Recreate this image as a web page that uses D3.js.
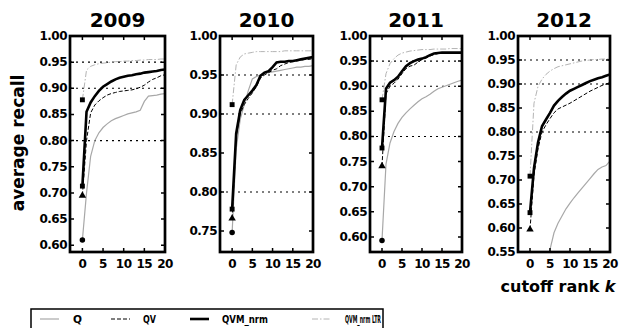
<!DOCTYPE html>
<html>
<head>
<meta charset="utf-8">
<script src="https://cdn.jsdelivr.net/npm/d3@7"></script>
<style>
  body { margin: 0; background: #fff; }
  text { font-family: "DejaVu Sans", sans-serif; font-weight: bold; }
</style>
</head>
<body>
<div id="chart"></div>
<script>
var years = ["2009", "2010", "2011", "2012"];
var ranks = [0, 1, 2, 3, 4, 5, 6, 7, 8, 9, 10, 11, 12, 13, 14, 15, 16, 17, 18, 19, 20];
var xTicks = [0, 5, 10, 15, 20];
var refLines = [0.80, 0.90, 0.95];
var yMin = [0.587, 0.723, 0.57, 0.55];
var yTicks = [
  [0.60, 0.65, 0.70, 0.75, 0.80, 0.85, 0.90, 0.95, 1.00],
  [0.75, 0.80, 0.85, 0.90, 0.95, 1.00],
  [0.60, 0.65, 0.70, 0.75, 0.80, 0.85, 0.90, 0.95, 1.00],
  [0.55, 0.60, 0.65, 0.70, 0.75, 0.80, 0.85, 0.90, 0.95, 1.00]
];

// one row per year, one value per cutoff rank
var recallQ = [
  [0.61, 0.70, 0.77, 0.80, 0.815, 0.825, 0.832, 0.838, 0.842, 0.845, 0.848, 0.851, 0.853, 0.855, 0.858, 0.875, 0.885, 0.886, 0.887, 0.889, 0.89],
  [0.748, 0.855, 0.893, 0.912, 0.93, 0.945, 0.948, 0.95, 0.952, 0.953, 0.954, 0.955, 0.956, 0.957, 0.958, 0.959, 0.96, 0.96, 0.961, 0.961, 0.962],
  [0.593, 0.745, 0.787, 0.81, 0.826, 0.838, 0.847, 0.855, 0.862, 0.869, 0.875, 0.879, 0.884, 0.89, 0.895, 0.898, 0.901, 0.904, 0.907, 0.91, 0.912],
  [0.40, 0.44, 0.47, 0.50, 0.53, 0.555, 0.59, 0.61, 0.625, 0.64, 0.652, 0.663, 0.673, 0.683, 0.693, 0.703, 0.713, 0.722, 0.727, 0.73, 0.74]
];
var recallQV = [
  [0.695, 0.80, 0.853, 0.868, 0.876, 0.882, 0.887, 0.89, 0.892, 0.894, 0.895, 0.896, 0.897, 0.899, 0.902, 0.906, 0.912, 0.917, 0.92, 0.924, 0.926],
  [0.766, 0.87, 0.90, 0.912, 0.92, 0.927, 0.935, 0.946, 0.95, 0.953, 0.956, 0.958, 0.962, 0.964, 0.966, 0.967, 0.968, 0.969, 0.97, 0.97, 0.971],
  [0.741, 0.885, 0.90, 0.906, 0.914, 0.925, 0.935, 0.94, 0.942, 0.948, 0.953, 0.956, 0.96, 0.963, 0.965, 0.966, 0.966, 0.966, 0.966, 0.966, 0.966],
  [0.597, 0.71, 0.765, 0.80, 0.815, 0.828, 0.84, 0.848, 0.852, 0.856, 0.86, 0.865, 0.87, 0.875, 0.88, 0.885, 0.889, 0.893, 0.897, 0.90, 0.903]
];
var recallQVM = [
  [0.713, 0.855, 0.873, 0.885, 0.895, 0.903, 0.908, 0.913, 0.917, 0.92, 0.922, 0.924, 0.925, 0.927, 0.928, 0.93, 0.931, 0.932, 0.933, 0.935, 0.936],
  [0.778, 0.875, 0.905, 0.918, 0.924, 0.93, 0.937, 0.949, 0.953, 0.955, 0.96, 0.966, 0.967, 0.967, 0.968, 0.968, 0.969, 0.97, 0.971, 0.972, 0.973],
  [0.777, 0.895, 0.907, 0.912, 0.919, 0.93, 0.94, 0.946, 0.95, 0.953, 0.955, 0.958, 0.962, 0.965, 0.966, 0.967, 0.967, 0.967, 0.967, 0.967, 0.967],
  [0.632, 0.725, 0.778, 0.812, 0.826, 0.84, 0.855, 0.865, 0.873, 0.88, 0.886, 0.89, 0.894, 0.898, 0.902, 0.906, 0.909, 0.912, 0.914, 0.917, 0.92]
];
var recallLTR = [
  [0.878, 0.935, 0.942, 0.945, 0.947, 0.948, 0.949, 0.95, 0.951, 0.951, 0.952, 0.952, 0.953, 0.953, 0.954, 0.954, 0.955, 0.955, 0.955, 0.956, 0.956],
  [0.912, 0.963, 0.973, 0.977, 0.978, 0.979, 0.98, 0.98, 0.98, 0.98, 0.98, 0.98, 0.98, 0.981, 0.981, 0.981, 0.981, 0.981, 0.981, 0.981, 0.981],
  [0.873, 0.925, 0.945, 0.955, 0.962, 0.966, 0.968, 0.97, 0.971, 0.972, 0.973, 0.973, 0.973, 0.974, 0.974, 0.974, 0.974, 0.975, 0.975, 0.975, 0.975],
  [0.708, 0.86, 0.895, 0.91, 0.92, 0.927, 0.932, 0.936, 0.938, 0.94, 0.942, 0.944, 0.946, 0.948, 0.949, 0.95, 0.951, 0.951, 0.952, 0.952, 0.952]
];
var seriesNames = ["Q", "QV", "QVM_nrm", "QVM_nrm LTR"];

function main(){
  var canvasWidth = 634;
  var canvasHeight = 328;

  var svg = d3.select("#chart").append("svg")
      .attr("width", canvasWidth)
      .attr("height", canvasHeight);

  var top = 36, bottom = 252;
  var lefts = [70, 220, 370, 518];
  var rights = [165, 313, 462, 610];

  // drawing order: light ones first, thick black last
  var styles = [
    {data: recallLTR, color: "#b4b4b4", width: 1, dash: "6,2,1.5,2", sym: d3.symbolSquare},
    {data: recallQ, color: "#a8a8a8", width: 1.2, dash: null, sym: d3.symbolCircle},
    {data: recallQV, color: "#000", width: 1, dash: "4,2", sym: d3.symbolTriangle},
    {data: recallQVM, color: "#000", width: 2.6, dash: null, sym: d3.symbolSquare}
  ];

  years.forEach(function(year, i){
    var xScale = d3.scaleLinear().domain([-3, 20]).range([lefts[i], rights[i]]);
    var yScale = d3.scaleLinear().domain([yMin[i], 1.0]).range([bottom, top]);

    var g = svg.append("g");

    g.append("clipPath").attr("id", "clip" + i)
      .append("rect")
      .attr("x", lefts[i]).attr("y", top)
      .attr("width", rights[i] - lefts[i]).attr("height", bottom - top);

    var plot = g.append("g").attr("clip-path", "url(#clip" + i + ")");

    // dotted reference lines
    plot.selectAll(".ref")
      .data(refLines)
      .enter().append("line")
      .attr("x1", lefts[i]).attr("x2", rights[i])
      .attr("y1", function(d) { return yScale(d); })
      .attr("y2", function(d) { return yScale(d); })
      .attr("stroke", "#000")
      .attr("stroke-width", 1.1)
      .attr("stroke-dasharray", "2,4");

    var line = d3.line()
      .x(function(d, j) { return xScale(ranks[j]); })
      .y(function(d) { return yScale(d); });

    styles.forEach(function(s){
      plot.append("path")
        .attr("d", line(s.data[i]))
        .attr("fill", "none")
        .attr("stroke", s.color)
        .attr("stroke-width", s.width)
        .attr("stroke-dasharray", s.dash);
    });

    // markers at rank 0
    styles.forEach(function(s){
      plot.append("path")
        .attr("d", d3.symbol().type(s.sym).size(24)())
        .attr("transform", "translate(" + xScale(ranks[0]) + "," + yScale(s.data[i][0]) + ")")
        .attr("fill", "#000");
    });

    // ticks pointing inward on all sides
    var tl = 4;
    g.selectAll(".xt")
      .data(xTicks)
      .enter().append("path")
      .attr("d", function(d) {
        var x = xScale(d);
        return "M" + x + "," + bottom + "v" + (-tl) + "M" + x + "," + top + "v" + tl;
      })
      .attr("stroke", "#000").attr("stroke-width", 1.5);

    g.selectAll(".yt")
      .data(yTicks[i])
      .enter().append("path")
      .attr("d", function(d) {
        var y = yScale(d);
        return "M" + lefts[i] + "," + y + "h" + tl + "M" + rights[i] + "," + y + "h" + (-tl);
      })
      .attr("stroke", "#000").attr("stroke-width", 1.5);

    g.selectAll(".xl")
      .data(xTicks)
      .enter().append("text")
      .attr("x", function(d) { return xScale(d); })
      .attr("y", 268)
      .attr("text-anchor", "middle")
      .attr("font-size", "12px")
      .attr("letter-spacing", "-0.5px")
      .text(function(d) { return d; });

    g.selectAll(".yl")
      .data(yTicks[i])
      .enter().append("text")
      .attr("x", lefts[i] - 3)
      .attr("y", function(d) { return yScale(d) + 4; })
      .attr("text-anchor", "end")
      .attr("font-size", "12px")
      .attr("letter-spacing", "-0.5px")
      .text(function(d) { return d.toFixed(2); });

    // frame
    g.append("rect")
      .attr("x", lefts[i]).attr("y", top)
      .attr("width", rights[i] - lefts[i]).attr("height", bottom - top)
      .attr("fill", "none")
      .attr("stroke", "#000")
      .attr("stroke-width", 2.7);

    g.append("text")
      .attr("x", (lefts[i] + rights[i]) / 2)
      .attr("y", 27)
      .attr("text-anchor", "middle")
      .attr("font-size", "20px")
      .text(year);
  });

  svg.append("text")
    .attr("transform", "translate(24,143) rotate(-90)")
    .attr("text-anchor", "middle")
    .attr("font-size", "17px")
    .text("average recall");

  var xl = svg.append("text")
    .attr("x", 558)
    .attr("y", 292)
    .attr("text-anchor", "middle")
    .attr("font-size", "16px");
  xl.append("tspan").text("cutoff rank ");
  xl.append("tspan").attr("font-style", "italic").text("k");

  // legend, cut off by the bottom of the picture like the original
  var legend = svg.append("g");
  legend.append("rect")
    .attr("x", 31).attr("y", 309)
    .attr("width", 352).attr("height", 30)
    .attr("fill", "#fff")
    .attr("stroke", "#000")
    .attr("stroke-width", 1.5);

  var legendStyles = [styles[1], styles[2], styles[3], styles[0]];
  var lineX = [40, 111, 190, 312];
  var textX = [73, 143, 222, 345];
  var textW = [9, 13, 46, 36];
  seriesNames.forEach(function(name, j){
    var s = legendStyles[j];
    legend.append("line")
      .attr("x1", lineX[j]).attr("x2", lineX[j] + 19)
      .attr("y1", 319).attr("y2", 319)
      .attr("stroke", s.color)
      .attr("stroke-width", s.width)
      .attr("stroke-dasharray", s.dash);
    legend.append("text")
      .attr("x", textX[j])
      .attr("y", 323)
      .attr("font-size", "10.5px")
      .attr("textLength", textW[j])
      .attr("lengthAdjust", "spacingAndGlyphs")
      .text(name);
  });
}

main();
</script>
</body>
</html>
